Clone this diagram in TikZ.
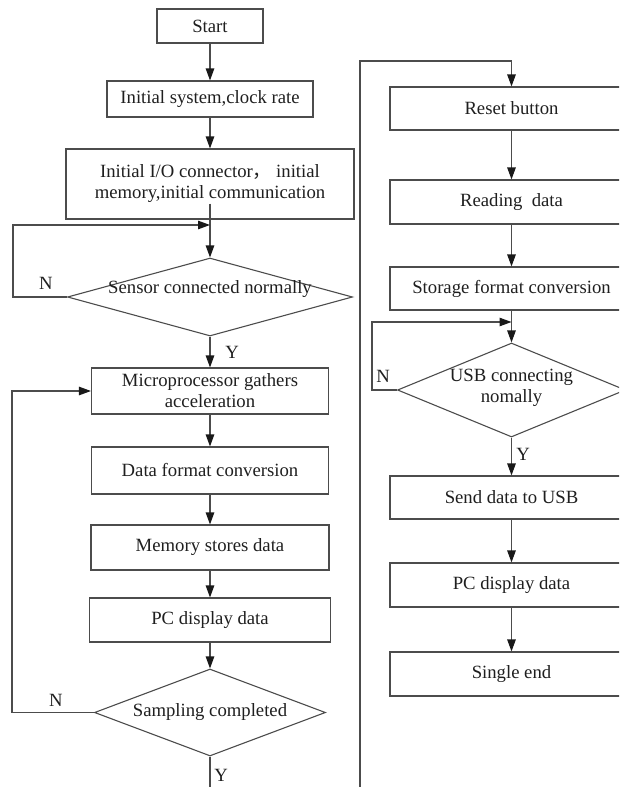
\documentclass[tikz,border=0pt]{standalone}
\usepackage{fontspec}
\setmainfont{Liberation Serif}
\newfontfamily\cjk{Noto Sans CJK SC}
\usetikzlibrary{shapes.geometric,arrows.meta}
\definecolor{linecol}{gray}{0.3}
\definecolor{txtcol}{gray}{0.12}
\tikzset{
  box/.style={draw=linecol, line width=1.1pt, rectangle, inner sep=0pt, align=center, text=txtcol,
    font=\fontsize{18.7}{21}\selectfont},
  dia/.style={draw=linecol, line width=1.1pt, diamond, inner sep=0pt},
  dtext/.style={align=center, text=txtcol, inner sep=0pt, font=\fontsize{18.7}{21}\selectfont},
  lbl/.style={text=txtcol, inner sep=0pt, font=\fontsize{18.7}{21}\selectfont},
  arr/.style={draw=linecol, line width=1.1pt, -{Triangle[length=12pt,width=8.5pt,color=black!90]}},
  ln/.style={draw=linecol, line width=1.1pt}
}
\begin{document}
\begin{tikzpicture}[x=1pt,y=-1pt]
\useasboundingbox (0,0) rectangle (619,787);
\clip (0,0) rectangle (619,787);
% left column
\node[box, minimum width=106pt, minimum height=34pt] (start) at (210,26) {Start};
\node[box, minimum width=206pt, minimum height=36pt] (init) at (210,99) {Initial system,clock rate};
\node[box, minimum width=288pt, minimum height=70pt] (io) at (210,184) {Initial I/O connector{\cjk ，}\ initial\\memory,initial communication};
\node[dia, minimum width=285pt, minimum height=78pt] (d1) at (210,297) {};
\node[dtext] at ([yshift=8pt]d1.center) {Sensor connected normally};
\node[box, minimum width=237pt, minimum height=46pt] (micro) at (210,391) {Microprocessor gathers\\acceleration};
\node[box, minimum width=237pt, minimum height=47pt] (fmt) at (210,470.5) {Data format conversion};
\node[box, minimum width=238pt, minimum height=45pt] (mem) at (210,547.5) {Memory stores data};
\node[box, minimum width=241pt, minimum height=44pt] (pc1) at (210,620) {PC display data};
\node[dia, minimum width=231pt, minimum height=87pt] (d2) at (210,712.5) {};
\node[dtext] at (d2.center) {Sampling completed};
\coordinate (j1) at (210,225);
\coordinate (lend) at (210,787);
% right column
\node[box, minimum width=243pt, minimum height=43pt] (reset) at (511.5,108.5) {Reset button};
\node[box, minimum width=243pt, minimum height=44pt] (read) at (511.5,202) {Reading\ \ data};
\node[box, minimum width=243pt, minimum height=43pt] (stor) at (511.5,288.5) {Storage format conversion};
\node[dia, minimum width=228pt, minimum height=94pt] (d3) at (511.5,390) {};
\node[dtext] at ([yshift=2pt]d3.center) {USB connecting\\nomally};
\node[box, minimum width=243pt, minimum height=43pt] (send) at (511.5,497.5) {Send data to USB};
\node[box, minimum width=243pt, minimum height=44pt] (pc2) at (511.5,585) {PC display data};
\node[box, minimum width=243pt, minimum height=44pt] (single) at (511.5,674) {Single end};
\coordinate (j3) at (511.5,322);
\coordinate (rbot) at (360,787);
\coordinate (rtop) at (360,61);
% connectors left
\draw[arr] (start) -- (init);
\draw[arr] (init) -- (io);
\draw[arr] ([yshift=16pt]io.south) -- (d1.north);
\draw[arr] (d1.west) -- ++(-54,0) |- (j1);
\draw[arr] (d1.south) -- (micro.north);
\draw[arr] (micro) -- (fmt);
\draw[arr] (fmt) -- (mem);
\draw[arr] (mem) -- (pc1);
\draw[arr] (pc1) -- (d2.north);
\draw[arr] (d2.west) -- ++(-82,0) |- (micro.west);
\draw[ln] (d2.south) -- (lend);
% connectors right
\draw[arr] (rbot) -- (rtop) -| (reset.north);
\draw[arr] (reset) -- (read);
\draw[arr] (read) -- (stor);
\draw[arr] (stor) -- (d3.north);
\draw[arr] (d3.west) -- ++(-25,0) |- (j3);
\draw[arr] (d3.south) -- (send.north);
\draw[arr] (send) -- (pc2);
\draw[arr] (pc2) -- (single);
% labels
\node[lbl] at (46,283) {N};
\node[lbl] at (232,352) {Y};
\node[lbl] at (56,700) {N};
\node[lbl] at (221,775) {Y};
\node[lbl] at (383,376) {N};
\node[lbl] at (523,454) {Y};
\end{tikzpicture}
\end{document}
